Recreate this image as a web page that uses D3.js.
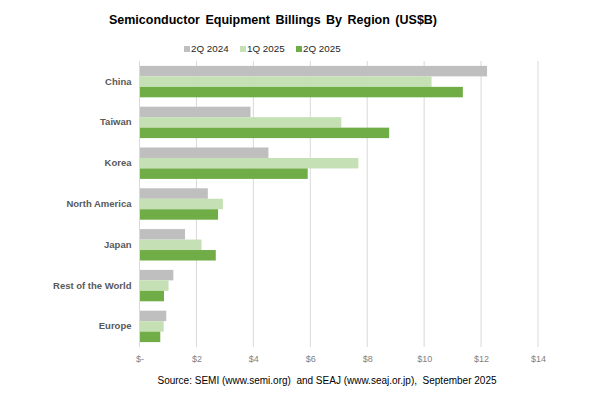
<!DOCTYPE html>
<html lang="en">
<head>
<meta charset="UTF-8">
<title>Semiconductor Equipment Billings By Region</title>
<script src="https://d3js.org/d3.v7.min.js"></script>
<style>
  body { margin: 0; background: #fff; }
  text { font-family: Arial, "Liberation Sans", sans-serif; }
</style>
</head>
<body>
<div id="chart"></div>
<script>
// data (US$ billions)
var regions = ["China", "Taiwan", "Korea", "North America", "Japan", "Rest of the World", "Europe"];
var seriesNames = ["2Q 2024", "1Q 2025", "2Q 2025"];
var q2_2024 = [12.21, 3.90, 4.53, 2.40, 1.60, 1.19, 0.94];
var q1_2025 = [10.26, 7.09, 7.69, 2.93, 2.18, 1.02, 0.85];
var q2_2025 = [11.36, 8.77, 5.91, 2.76, 2.68, 0.86, 0.73];
var tickValues = [0, 2, 4, 6, 8, 10, 12, 14];
var tickLabels = ["$-", "$2", "$4", "$6", "$8", "$10", "$12", "$14"];
var colors = ["#bfbfbf", "#c5e0b4", "#70ad47"];

var W = 592, H = 400;
var margin = {top: 61, right: 54, bottom: 53, left: 139.5};
var width = W - margin.left - margin.right,
    height = H - margin.top - margin.bottom;

var svg = d3.select("#chart").append("svg")
    .attr("width", W)
    .attr("height", H);

svg.append("text")
    .attr("x", 273).attr("y", 24)
    .attr("text-anchor", "middle")
    .style("font-size", "12.5px")
    .style("font-weight", "bold")
    .style("word-spacing", "2px")
    .attr("fill", "#000")
    .text("Semiconductor Equipment Billings By Region (US$B)");

// legend
var legendX = [184, 240, 296];
seriesNames.forEach(function(name, i) {
    var lg = svg.append("g").attr("transform", "translate(" + legendX[i] + ",49)");
    lg.append("rect").attr("x", 0).attr("y", -3).attr("width", 6).attr("height", 6).attr("fill", colors[i]);
    lg.append("text").attr("x", 7).attr("y", 0).attr("dy", "0.35em")
        .style("font-size", "9.8px").attr("fill", "#262626").text(name);
});

var g = svg.append("g")
    .attr("transform", "translate(" + margin.left + "," + margin.top + ")");

var x = d3.scaleLinear().domain([0, 14]).range([0, 398.5]);
var y = d3.scaleBand().domain(regions).range([0, height]).paddingInner(0.23).paddingOuter(0.12);
var ySub = d3.scaleBand().domain(seriesNames).range([0, y.bandwidth()]);

// grid
g.selectAll(".grid").data(tickValues.slice(1)).enter().append("line")
    .attr("x1", d => x(d)).attr("x2", d => x(d))
    .attr("y1", 0).attr("y2", height)
    .attr("stroke", "#d9d9d9").attr("stroke-width", 1);

var xAxis = g.append("g")
    .attr("transform", "translate(0," + height + ")")
    .call(d3.axisBottom(x).tickValues(tickValues).tickFormat((d, i) => tickLabels[i]).tickSize(0).tickPadding(9));
xAxis.select(".domain").remove();
xAxis.selectAll("text").style("font-size", "9px").attr("fill", "#7f7f7f");

var allSeries = [q2_2024, q1_2025, q2_2025];
var groups = g.selectAll(".region").data(regions).enter().append("g")
    .attr("transform", d => "translate(0," + y(d) + ")");

groups.selectAll("rect")
    .data((r, ri) => seriesNames.map((s, si) => ({s: s, si: si, v: allSeries[si][ri]})))
    .enter().append("rect")
    .attr("x", 0)
    .attr("y", d => ySub(d.s))
    .attr("width", d => x(d.v))
    .attr("height", ySub.bandwidth())
    .attr("fill", d => colors[d.si]);

// vertical axis line
g.append("line").attr("x1", 0).attr("x2", 0).attr("y1", 0).attr("y2", height)
    .attr("stroke", "#d9d9d9").attr("stroke-width", 1);

var yAxis = g.append("g").call(d3.axisLeft(y).tickSize(0).tickPadding(8));
yAxis.select(".domain").remove();
yAxis.selectAll("text").style("font-size", "9.5px").style("font-weight", "bold").attr("fill", "#595959");

svg.append("text")
    .attr("x", 327).attr("y", 384)
    .attr("text-anchor", "middle")
    .style("font-size", "10px")
    .style("white-space", "pre")
    .attr("fill", "#000")
    .text("Source: SEMI (www.semi.org)  and SEAJ (www.seaj.or.jp),  September 2025");
</script>
</body>
</html>
